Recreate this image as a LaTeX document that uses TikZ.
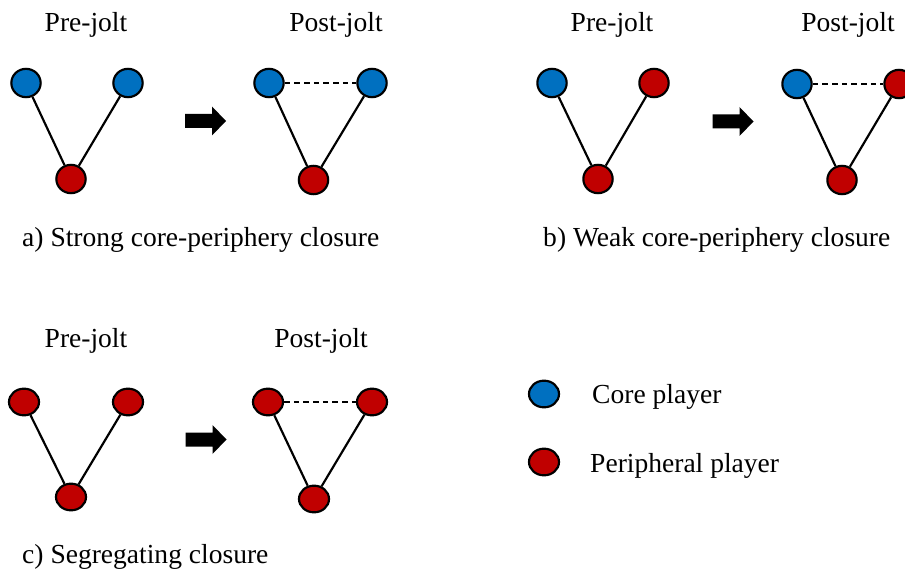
\documentclass[tikz,border=0pt]{standalone}
\usepackage{fontspec}
\setmainfont{Liberation Serif}
\usetikzlibrary{positioning}
\usetikzlibrary{shapes.geometric}

\definecolor{coreblue}{HTML}{0070C0}
\definecolor{perired}{HTML}{C00000}

\tikzset{
  player/.style={ellipse,draw=black,line width=0.065cm,minimum width=0.88cm,minimum height=0.85cm,inner sep=0pt},
  flat/.style={minimum width=0.9cm,minimum height=0.8cm},
  core/.style={player,fill=coreblue},
  peri/.style={player,fill=perired},
  tie/.style={line width=0.065cm},
  newtie/.style={line width=0.055cm,dash pattern=on 0.17cm off 0.12cm},
  lbl/.style={font=\fontsize{23.5}{28}\selectfont,inner sep=0pt},
}
% block arrow between pre and post panels
\newcommand{\joltarrow}[2]{\fill (#1-20.5,#2-7) -- (#1+6.5,#2-7) -- (#1+6.5,#2-14.5) -- (#1+20.5,#2) -- (#1+6.5,#2+14.5) -- (#1+6.5,#2+7) -- (#1-20.5,#2+7) -- cycle;}

\begin{document}
\begin{tikzpicture}[x=0.03cm,y=-0.03cm]
\useasboundingbox (0,0) rectangle (905,572);

% a) strong core-periphery closure
\node[lbl,anchor=base] (apre) at (86,32) {Pre-jolt};
\node[lbl,anchor=base] (apost) at (336,32) {Post-jolt};
\node[core] (a1) at (26,83) {};
\node[core] (a2) at (128,83) {};
\node[peri] (a3) at (71,179) {};
\draw[tie] (a1) -- (a3);
\draw[tie] (a2) -- (a3);
\joltarrow{205.5}{121}
\node[core] (a4) at (269,83) {};
\node[core] (a5) at (372,83) {};
\node[peri] (a6) at (313.5,180) {};
\draw[tie] (a4) -- (a6);
\draw[tie] (a5) -- (a6);
\draw[newtie] (a4) -- (a5);
\node[lbl,anchor=base west] (acap) at (22,247) {a) Strong core-periphery closure};

% b) weak core-periphery closure
\node[lbl,anchor=base] (bpre) at (612,32) {Pre-jolt};
\node[lbl,anchor=base] (bpost) at (848,32) {Post-jolt};
\node[core] (b1) at (552,83) {};
\node[peri] (b2) at (654,83) {};
\node[peri] (b3) at (598,179) {};
\draw[tie] (b1) -- (b3);
\draw[tie] (b2) -- (b3);
\joltarrow{733}{121.5}
\node[core] (b4) at (797,84) {};
\node[peri] (b5) at (899,84) {};
\node[peri] (b6) at (842,180) {};
\draw[tie] (b4) -- (b6);
\draw[tie] (b5) -- (b6);
\draw[newtie] (b4) -- (b5);
\node[lbl,anchor=base west] (bcap) at (543,247) {b) Weak core-periphery closure};

% c) segregating closure
\node[lbl,anchor=base] (cpre) at (86,347) {Pre-jolt};
\node[lbl,anchor=base] (cpost) at (321,347) {Post-jolt};
\node[peri,flat] (c1) at (24,402) {};
\node[peri,flat] (c2) at (128,402) {};
\node[peri,flat] (c3) at (71,497) {};
\draw[tie] (c1) -- (c3);
\draw[tie] (c2) -- (c3);
\joltarrow{206}{439.5}
\node[peri,flat] (c4) at (268,402) {};
\node[peri,flat] (c5) at (372,402) {};
\node[peri,flat] (c6) at (314,499) {};
\draw[tie] (c4) -- (c6);
\draw[tie] (c5) -- (c6);
\draw[newtie] (c4) -- (c5);
\node[lbl,anchor=base west] (ccap) at (22,563) {c) Segregating closure};

% legend
\node[core,flat] (lcore) at (544,394) {};
\node[lbl,anchor=base west] (lcoretxt) at (592,403) {Core player};
\node[peri,flat] (lperi) at (544,462) {};
\node[lbl,anchor=base west] (lperitxt) at (590,472) {Peripheral player};

\end{tikzpicture}
\end{document}
